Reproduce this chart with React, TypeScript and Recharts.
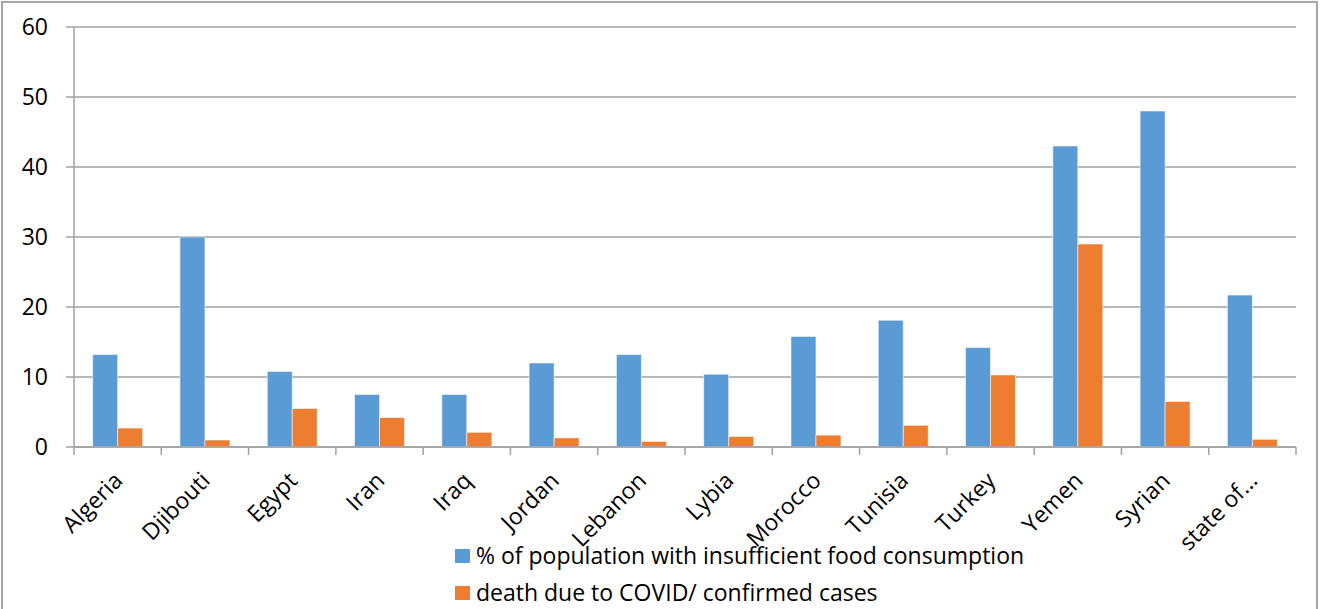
import React from "react";
import {
  BarChart,
  Bar,
  XAxis,
  YAxis,
  CartesianGrid,
  Legend,
} from "recharts";

const countries = [
  "Algeria",
  "Djibouti",
  "Egypt",
  "Iran",
  "Iraq",
  "Jordan",
  "Lebanon",
  "Lybia",
  "Morocco",
  "Tunisia",
  "Turkey",
  "Yemen",
  "Syrian",
  "state of...",
];

const insufficientFood = [13.2, 30, 10.8, 7.5, 7.5, 12, 13.2, 10.4, 15.8, 18.1, 14.2, 43, 48, 21.7];
const covidDeathRatio = [2.7, 1.0, 5.5, 4.2, 2.1, 1.3, 0.8, 1.5, 1.7, 3.1, 10.3, 29, 6.5, 1.1];

const yTicks = [0, 10, 20, 30, 40, 50, 60];

const seriesNames = [
  "% of population with insufficient food consumption",
  "death due to COVID/ confirmed cases",
];

const BLUE = "#5b9bd5";
const ORANGE = "#ed7d31";
const GRID = "#a0a0a0";
const FONT = "'Open Sans', Lato, sans-serif";
const FONT_SIZE = 23;

const W = 1320;
const H = 609;
const Y_W = 74;
const MARGIN = { top: 27, right: 24, bottom: 0, left: 0 };
const BAND = (W - Y_W - MARGIN.right) / countries.length;

const data = countries.map((name, i) => ({
  name,
  food: insufficientFood[i],
  covid: covidDeathRatio[i],
}));

// category label rotated 45deg, plus tick marks on the band edges
function CountryTick(props: any) {
  const { x, y, payload, index } = props;
  const left = x - BAND / 2;
  const last = index === countries.length - 1;
  const tx = x + 6.5;
  const ty = y + 35;
  return (
    <g>
      <line x1={left} x2={left} y1={y} y2={y + 8} stroke={GRID} strokeWidth={1.5} />
      {last && (
        <line x1={x + BAND / 2} x2={x + BAND / 2} y1={y} y2={y + 8} stroke={GRID} strokeWidth={1.5} />
      )}
      <text
        x={tx}
        y={ty}
        transform={`rotate(-45 ${tx} ${ty})`}
        textAnchor="end"
        fontSize={FONT_SIZE}
        fontFamily={FONT}
        fill="#000"
      >
        {payload.value}
      </text>
    </g>
  );
}

function LegendBox() {
  const colors = [BLUE, ORANGE];
  return (
    <div style={{ fontFamily: FONT, fontSize: FONT_SIZE, color: "#000", lineHeight: 1 }}>
      {seriesNames.map((n, i) => (
        <div key={n} style={{ display: "flex", alignItems: "center", height: 37 }}>
          <span
            style={{
              display: "inline-block",
              width: 15,
              height: 14,
              background: colors[i],
              marginRight: 6,
            }}
          />
          <span>{n}</span>
        </div>
      ))}
    </div>
  );
}

export default function App() {
  return (
    <div
      style={{
        position: "absolute",
        left: 0,
        top: 0,
        width: W,
        height: H,
        overflow: "hidden",
        background: "#fff",
      }}
    >
      <div
        style={{
          position: "absolute",
          left: 1,
          top: 1,
          width: 1317,
          height: 660,
          boxSizing: "border-box",
          border: "2px solid #a6a6a6",
        }}
      />
      <BarChart
        width={W}
        height={H}
        data={data}
        margin={MARGIN}
        barCategoryGap="21.4%"
        barGap={0}
      >
        <CartesianGrid vertical={false} stroke={GRID} strokeWidth={1.5} />
        <XAxis
          dataKey="name"
          height={H - 447}
          axisLine={{ stroke: GRID, strokeWidth: 1.5 }}
          tickLine={false}
          tickSize={0}
          tickMargin={0}
          interval={0}
          tick={<CountryTick />}
        />
        <YAxis
          width={Y_W}
          domain={[0, 60]}
          ticks={yTicks}
          axisLine={{ stroke: GRID, strokeWidth: 1.5 }}
          tickLine={{ stroke: GRID, strokeWidth: 1.5 }}
          tickSize={8}
          tickMargin={18}
          tick={{ fontSize: FONT_SIZE, fontFamily: FONT, fill: "#000" }}
        />
        <Legend
          layout="vertical"
          align="center"
          verticalAlign="middle"
          content={<LegendBox />}
          wrapperStyle={{ left: 455, top: 537, width: 780 }}
        />
        <Bar
          dataKey="food"
          name={seriesNames[0]}
          fill={BLUE}
          stroke="rgba(255,255,255,0.55)"
          strokeWidth={1}
          isAnimationActive={false}
        />
        <Bar
          dataKey="covid"
          name={seriesNames[1]}
          fill={ORANGE}
          stroke="rgba(255,255,255,0.55)"
          strokeWidth={1}
          isAnimationActive={false}
        />
      </BarChart>
    </div>
  );
}
